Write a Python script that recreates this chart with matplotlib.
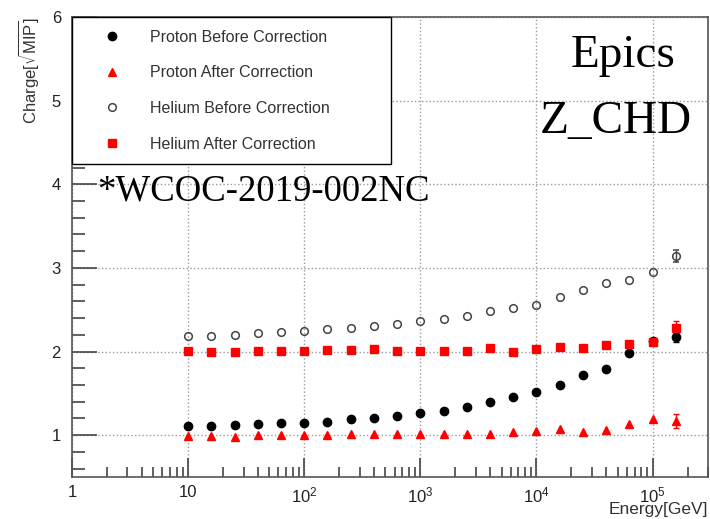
import math
import matplotlib
matplotlib.use('Agg')
import matplotlib.pyplot as plt
from matplotlib.ticker import FixedLocator, FuncFormatter, MultipleLocator

plt.rcParams['font.family'] = ['Liberation Sans', 'DejaVu Sans']
plt.rcParams['mathtext.default'] = 'regular'

# energy bins: 0.2 decade steps from 10 GeV
energy = [10, 15.8, 25.1, 39.8, 63.1, 100, 158, 251, 398, 631, 1000, 1585,
          2512, 3981, 6310, 1.0e4, 1.585e4, 2.512e4, 3.981e4, 6.31e4, 1.0e5, 1.585e5]

proton_before = [1.11, 1.11, 1.12, 1.13, 1.14, 1.14, 1.16, 1.19, 1.21, 1.23, 1.26,
                 1.29, 1.34, 1.40, 1.46, 1.52, 1.60, 1.72, 1.79, 1.98, 2.13, 2.17]
proton_after = [0.99, 0.99, 0.98, 1.00, 1.00, 1.00, 1.00, 1.01, 1.01, 1.02, 1.02,
                1.01, 1.02, 1.01, 1.04, 1.05, 1.07, 1.04, 1.06, 1.13, 1.19, 1.17]
helium_before = [2.18, 2.18, 2.20, 2.22, 2.23, 2.24, 2.27, 2.28, 2.30, 2.33, 2.36,
                 2.39, 2.42, 2.48, 2.52, 2.56, 2.65, 2.74, 2.82, 2.86, 2.95, 3.14]
helium_after = [2.01, 1.99, 2.00, 2.01, 2.01, 2.01, 2.02, 2.02, 2.03, 2.01, 2.01,
                2.01, 2.01, 2.04, 1.99, 2.03, 2.06, 2.04, 2.08, 2.09, 2.12, 2.28]

# only the last bin has a visible error bar
proton_before_err = [0.0] * 21 + [0.05]
proton_after_err = [0.0] * 21 + [0.08]
helium_before_err = [0.0] * 21 + [0.07]
helium_after_err = [0.0] * 21 + [0.09]

fig = plt.figure(figsize=(7.1, 5.19), dpi=100)
ax = fig.add_axes([72 / 710, 42 / 519, 636 / 710, 460 / 519])

last = (len(energy) - 1, 1)
h1 = ax.errorbar(energy, proton_before, yerr=proton_before_err, fmt='o', color='black',
                 ms=6, capsize=2, elinewidth=1, errorevery=last)
h2 = ax.errorbar(energy, proton_after, yerr=proton_after_err, fmt='^', color='red',
                 ms=6, capsize=2, elinewidth=1, errorevery=last)
h3 = ax.errorbar(energy, helium_before, yerr=helium_before_err, fmt='o', color='#444444',
                 mfc='none', mec='#444444', mew=1.1, ms=5.5, capsize=2, elinewidth=1,
                 errorevery=last)
h4 = ax.errorbar(energy, helium_after, yerr=helium_after_err, fmt='s', color='red',
                 ms=6, capsize=2, elinewidth=1, errorevery=last)

ax.set_xscale('log')
ax.set_xlim(1, 3e5)
ax.set_ylim(0.5, 6)

ax.yaxis.set_major_locator(MultipleLocator(1))
ax.yaxis.set_minor_locator(MultipleLocator(0.2))
ax.xaxis.set_major_locator(FixedLocator([1, 10, 100, 1e3, 1e4, 1e5]))


def fmt_x(v, pos):
    if v < 5:
        return '1'
    if v < 50:
        return '10'
    return '$10^{%d}$' % int(round(math.log10(v)))


ax.xaxis.set_major_formatter(FuncFormatter(fmt_x))

ax.tick_params(which='both', direction='in', top=False, right=False,
               labelsize=12, labelcolor='#222222', color='#444444')
ax.tick_params(axis='y', which='major', length=18, width=1.2, pad=8)
ax.tick_params(axis='y', which='minor', length=9, width=1.2)
ax.tick_params(axis='x', which='major', length=14, width=1.2, pad=6)
ax.tick_params(axis='x', which='minor', length=7, width=1.2)

for s in ax.spines.values():
    s.set_color('#555555')
    s.set_linewidth(1.2)

ax.grid(True, which='major', linestyle=':', color='#999999', linewidth=1)

ax.set_ylabel(r'Charge[$\sqrt{MIP}$]', fontsize=12, color='#333333', loc='top')
ax.yaxis.set_label_coords(-0.048, 1.0)
ax.set_xlabel('Energy[GeV]', fontsize=12.5, color='#333333', loc='right')
ax.xaxis.label.set_va('bottom')
ax.xaxis.set_label_coords(1.0, -0.088)

leg = ax.legend([h1[0], h2[0], h3[0], h4[0]],
                ['Proton Before Correction', 'Proton After Correction',
                 'Helium Before Correction', 'Helium After Correction'],
                loc='upper left', bbox_to_anchor=(0, 0, 0.501, 1), mode='expand',
                borderaxespad=0, fontsize=11.5, labelspacing=1.29, borderpad=0.8,
                handlelength=3.4, handletextpad=0.7, fancybox=False, framealpha=1,
                edgecolor='black')
leg.get_frame().set_linewidth(1.0)
for t in leg.get_texts():
    t.set_color('#333333')

ax.text(0.866, 0.891, 'Epics', transform=ax.transAxes, ha='center', va='baseline',
        fontsize=34, family='Liberation Serif')
ax.text(0.855, 0.748, 'Z_CHD', transform=ax.transAxes, ha='center', va='baseline',
        fontsize=34, family='Liberation Serif')
ax.text(0.039, 0.602, '*WCOC-2019-002NC', transform=ax.transAxes, ha='left',
        va='baseline', fontsize=26.5, family='Liberation Serif')

fig.savefig('out.png', dpi=100)
